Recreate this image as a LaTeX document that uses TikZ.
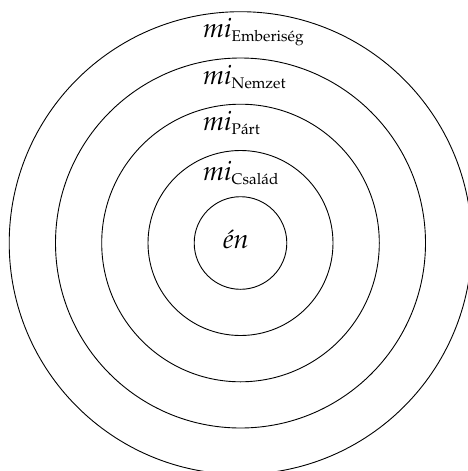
\documentclass[tikz,border=0pt]{standalone}
\usepackage[T1]{fontenc}
\usepackage{mathpazo}
\newcommand{\milab}[1]{\textit{mi}\raisebox{-4pt}{\fontsize{15.4}{18}\selectfont #1}}
\begin{document}
\begin{tikzpicture}[x=1pt,y=-1pt,
  ring/.style={draw=black,line width=0.9pt},
  lab/.style={anchor=base west,inner sep=0pt,font=\fontsize{27}{30}\selectfont}]
\useasboundingbox (0,0) rectangle (468,471);
\coordinate (c) at (240.5,243);
\foreach \r/\n in {46.3/r1,92.5/r2,138.8/r3,185/r4,231.3/r5}
  \draw[ring] (c) circle[radius=\r];
\node[lab] (en) at (223,248.5) {\textit{én}};
\node[lab] (csalad) at (203,180) {\milab{Család}};
\node[lab] (part) at (203,130.7) {\milab{Párt}};
\node[lab] (nemzet) at (203,84) {\milab{Nemzet}};
\node[lab] (emb) at (203,37.5) {\milab{Emberiség}};
\end{tikzpicture}
\end{document}
